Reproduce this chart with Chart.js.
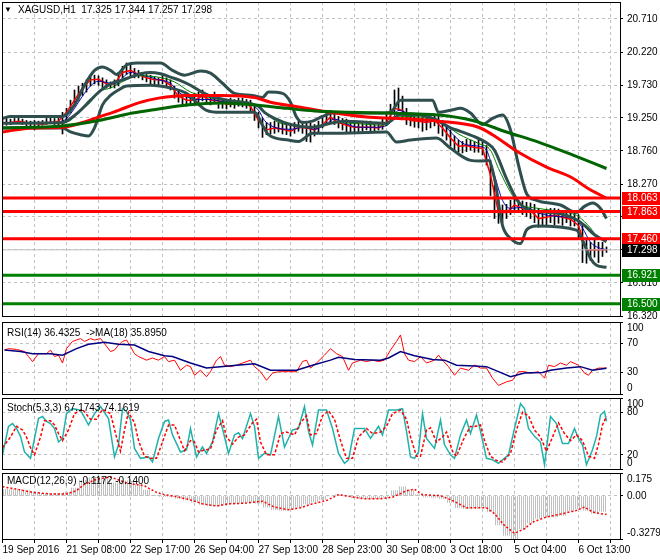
<!DOCTYPE html>
<html>
<head>
<meta charset="utf-8">
<script src="https://cdn.jsdelivr.net/npm/chart.js@4/dist/chart.umd.min.js"></script>
<style>
  body { margin: 0; background: #fff; }
  #wrap { position: relative; width: 660px; height: 560px; overflow: hidden; font: 10px "Liberation Sans", Arial, sans-serif; color: #000; }
  #wrap canvas { position: absolute; left: 0; top: 0; }
  .t { position: absolute; white-space: pre; line-height: 12px; }
</style>
</head>
<body>
<div id="wrap">
  <canvas id="cMain" width="660" height="560"></canvas>
  <canvas id="cRsi" width="660" height="560"></canvas>
  <canvas id="cStoch" width="660" height="560"></canvas>
  <canvas id="cMacd" width="660" height="560"></canvas>
  <div class="t" style="left:4px;top:4px;font-size:8px">▼</div>
  <div class="t" style="left:18px;top:4px">XAGUSD,H1  17.325 17.344 17.257 17.298</div>
  <div class="t" style="left:7px;top:327px">RSI(14) 36.4325  -&gt;MA(18) 35.8950</div>
  <div class="t" style="left:7px;top:402px">Stoch(5,3,3) 67.1743 74.1619</div>
  <div class="t" style="left:7px;top:475px">MACD(12,26,9) -0.1172 -0.1400</div>
</div>
<script>
const xLabels = ['19 Sep 2016', '21 Sep 08:00', '22 Sep 17:00', '26 Sep 04:00', '27 Sep 13:00',
  '28 Sep 23:00', '30 Sep 08:00', '3 Oct 18:00', '5 Oct 04:00', '6 Oct 13:00'];
const priceTicks = [16.320, 16.810, 17.300, 17.790, 18.270, 18.760, 19.250, 19.730, 20.220, 20.710];
const resistance = [18.063, 17.863, 17.460];
const support = [16.921, 16.500];
const lastPrice = 17.298;

// high / low, one stick every 2 bars
const barHigh = [
  19.26, 19.24, 19.23, 19.24, 19.26, 19.23, 19.21, 19.20, 19.21, 19.20,
  19.21, 19.24, 19.26, 19.24, 19.27, 19.33, 19.39, 19.51, 19.66, 19.72,
  19.76, 19.81, 19.87, 19.88, 19.87, 19.84, 19.81, 19.78, 19.81, 19.92,
  20.01, 20.06, 20.04, 19.98, 19.95, 19.92, 19.89, 19.88, 19.85, 19.84,
  19.89, 19.84, 19.81, 19.72, 19.66, 19.60, 19.58, 19.57, 19.61, 19.63,
  19.66, 19.61, 19.58, 19.63, 19.57, 19.52, 19.52, 19.54, 19.52, 19.54,
  19.54, 19.52, 19.51, 19.42, 19.33, 19.24, 19.18, 19.18, 19.20, 19.18,
  19.17, 19.15, 19.15, 19.18, 19.20, 19.20, 19.17, 19.17, 19.15, 19.20,
  19.27, 19.33, 19.36, 19.32, 19.27, 19.24, 19.23, 19.21, 19.20, 19.18,
  19.20, 19.20, 19.20, 19.18, 19.18, 19.23, 19.32, 19.45, 19.66, 19.69,
  19.57, 19.39, 19.32, 19.29, 19.30, 19.27, 19.29, 19.30, 19.30, 19.30,
  19.21, 19.13, 19.07, 18.98, 18.92, 18.90, 18.93, 18.92, 18.90, 18.92,
  18.89, 18.84, 18.62, 18.25, 18.03, 17.96, 17.97, 18.03, 18.06, 18.03,
  18.02, 18.00, 17.99, 17.97, 17.91, 17.88, 17.90, 17.91, 17.91, 17.90,
  17.88, 17.88, 17.85, 17.84, 17.82, 17.66, 17.47, 17.41, 17.44, 17.41,
  17.41, 17.34
];
const barLow = [
  19.13, 19.14, 19.15, 19.17, 19.17, 19.15, 19.13, 19.11, 19.07, 19.13,
  19.14, 19.15, 19.17, 19.15, 19.14, 19.01, 19.21, 19.33, 19.42, 19.51,
  19.58, 19.63, 19.72, 19.75, 19.73, 19.69, 19.69, 19.69, 19.69, 19.72,
  19.84, 19.89, 19.87, 19.84, 19.84, 19.81, 19.78, 19.75, 19.75, 19.72,
  19.75, 19.72, 19.66, 19.54, 19.48, 19.45, 19.42, 19.44, 19.45, 19.47,
  19.50, 19.47, 19.44, 19.47, 19.39, 19.39, 19.38, 19.41, 19.39, 19.42,
  19.41, 19.39, 19.33, 19.21, 19.10, 18.96, 19.00, 19.01, 19.02, 19.04,
  19.01, 19.00, 18.98, 19.02, 19.05, 19.02, 18.90, 18.89, 18.98, 19.02,
  19.10, 19.15, 19.18, 19.15, 19.10, 19.07, 19.04, 19.04, 19.04, 19.04,
  19.05, 19.07, 19.05, 19.05, 19.07, 19.08, 19.13, 19.21, 19.30, 19.36,
  19.24, 19.15, 19.13, 19.11, 19.10, 19.05, 19.07, 19.10, 19.13, 19.02,
  18.98, 18.92, 18.83, 18.77, 18.74, 18.73, 18.75, 18.77, 18.74, 18.74,
  18.70, 18.55, 18.10, 17.76, 17.69, 17.70, 17.76, 17.82, 17.85, 17.85,
  17.82, 17.79, 17.76, 17.70, 17.63, 17.66, 17.67, 17.70, 17.67, 17.69,
  17.66, 17.70, 17.65, 17.65, 17.47, 17.11, 17.10, 17.14, 17.19, 17.11,
  17.20, 17.26
];
// close, every 4 bars
const closeLine = [
  19.17, 19.18, 19.20, 19.18, 19.17, 19.15, 19.18, 19.20, 19.33, 19.51,
  19.69, 19.81, 19.82, 19.75, 19.75, 19.92, 19.95, 19.89, 19.84, 19.81,
  19.81, 19.73, 19.57, 19.51, 19.51, 19.57, 19.51, 19.50, 19.45, 19.45,
  19.47, 19.42, 19.21, 19.07, 19.10, 19.08, 19.05, 19.11, 19.10, 19.07,
  19.15, 19.26, 19.18, 19.14, 19.11, 19.11, 19.11, 19.10, 19.18, 19.39,
  19.36, 19.21, 19.20, 19.18, 19.21, 19.10, 18.95, 18.83, 18.84, 18.81,
  18.80, 18.40, 17.85, 17.85, 17.96, 17.91, 17.88, 17.76, 17.78, 17.81,
  17.78, 17.75, 17.66, 17.29, 17.30, 17.30
];
// [bar, value]
const fastMA = [[0,19.17],[28,19.18],[32,19.24],[36,19.39],[40,19.57],[44,19.72],[48,19.79],[54,19.76],[57,19.75],[60,19.84],[64,19.92],[68,19.89],[74,19.85],[78,19.81],[84,19.76],[88,19.63],[94,19.54],[98,19.52],[104,19.52],[108,19.50],[116,19.47],[124,19.45],[128,19.36],[131,19.21],[136,19.11],[144,19.08],[151,19.11],[156,19.08],[161,19.14],[166,19.23],[171,19.17],[178,19.11],[188,19.11],[194,19.18],[198,19.36],[204,19.29],[208,19.21],[216,19.20],[221,19.13],[226,18.98],[231,18.86],[238,18.83],[242,18.77],[246,18.40],[250,18.03],[254,17.91],[261,17.93],[268,17.84],[278,17.79],[286,17.76],[290,17.62],[294,17.41],[298,17.33],[302,17.30]];
const midMA = [[0,19.17],[30,19.18],[34,19.21],[38,19.33],[44,19.48],[48,19.63],[54,19.69],[58,19.75],[64,19.84],[68,19.87],[78,19.85],[86,19.78],[94,19.63],[101,19.57],[108,19.52],[118,19.50],[126,19.45],[131,19.33],[138,19.18],[148,19.13],[158,19.11],[166,19.18],[174,19.17],[191,19.14],[198,19.26],[204,19.27],[214,19.23],[221,19.15],[228,19.01],[238,18.87],[244,18.77],[248,18.50],[254,18.15],[258,17.99],[268,17.91],[284,17.84],[288,17.79],[294,17.62],[298,17.47],[302,17.44]];
const bbUpper = [[0,19.24],[4,19.27],[30,19.27],[36,19.44],[41,19.73],[46,19.95],[50,20.00],[54,19.95],[57,19.89],[62,20.03],[67,20.06],[79,20.06],[85,19.95],[91,19.88],[99,19.94],[104,19.91],[110,19.76],[116,19.61],[125,19.58],[130,19.55],[133,19.63],[140,19.61],[144,19.48],[147,19.26],[150,19.18],[155,19.20],[160,19.27],[165,19.32],[192,19.32],[195,19.36],[199,19.51],[215,19.51],[218,19.33],[224,19.36],[229,19.39],[234,19.32],[240,19.15],[245,19.24],[250,19.29],[254,19.07],[258,18.55],[262,18.13],[267,18.03],[279,17.96],[287,17.85],[291,17.94],[295,17.99],[299,17.91],[302,17.76]];
const bbMiddle = [[0,19.17],[30,19.18],[34,19.24],[39,19.36],[44,19.51],[49,19.65],[54,19.75],[59,19.80],[64,19.85],[69,19.90],[74,19.92],[79,19.90],[84,19.85],[89,19.80],[94,19.73],[99,19.64],[104,19.57],[109,19.53],[116,19.49],[124,19.46],[128,19.42],[131,19.33],[136,19.24],[144,19.15],[154,19.11],[159,19.13],[164,19.17],[171,19.20],[192,19.17],[199,19.30],[206,19.30],[217,19.22],[224,19.10],[229,19.05],[236,18.97],[242,18.88],[246,18.77],[252,18.35],[257,18.05],[262,17.90],[269,17.86],[279,17.83],[286,17.76],[291,17.66],[296,17.52],[302,17.42]];
const bbLower = [[0,19.10],[30,19.10],[34,19.04],[39,19.00],[43,18.98],[46,19.10],[50,19.44],[54,19.58],[58,19.66],[62,19.72],[74,19.73],[84,19.69],[92,19.61],[102,19.36],[109,19.33],[126,19.33],[130,19.14],[133,19.00],[143,18.92],[148,18.90],[155,19.02],[164,19.02],[192,19.04],[197,18.89],[204,18.92],[217,18.95],[224,18.80],[234,18.62],[239,18.61],[243,18.62],[246,18.35],[250,17.66],[254,17.47],[259,17.39],[262,17.59],[267,17.65],[287,17.59],[290,17.44],[294,17.17],[297,17.07],[302,17.04]];
const ma100 = [[0,19.04],[15,19.10],[30,19.11],[40,19.18],[48,19.26],[58,19.36],[68,19.47],[78,19.54],[92,19.58],[110,19.58],[126,19.55],[134,19.48],[148,19.41],[164,19.33],[182,19.26],[198,19.24],[218,19.20],[238,19.11],[245,19.00],[258,18.74],[272,18.52],[285,18.36],[292,18.22],[302,18.06]];
const ma200 = [[0,19.10],[30,19.13],[48,19.21],[65,19.32],[78,19.38],[92,19.44],[110,19.47],[126,19.44],[142,19.39],[156,19.35],[192,19.32],[218,19.29],[235,19.21],[252,19.04],[268,18.89],[285,18.70],[302,18.50]];

const rsi = [[1,61],[3,63],[7,62],[11,59],[13,52],[15,45],[18,56],[22,56],[24,61],[26,52],[28,54],[30,43],[32,63],[35,73],[37,75],[39,77],[41,73],[44,77],[46,75],[49,77],[51,70],[54,59],[56,61],[58,68],[60,73],[62,75],[64,66],[66,56],[68,52],[72,47],[75,50],[78,47],[81,52],[83,45],[86,47],[89,33],[92,40],[94,38],[96,26],[99,33],[102,24],[104,31],[107,47],[109,52],[111,40],[114,38],[117,40],[120,43],[124,47],[126,38],[129,31],[132,19],[135,29],[138,31],[143,31],[147,31],[150,45],[152,47],[154,36],[157,43],[161,54],[164,63],[167,56],[170,52],[173,33],[175,43],[179,47],[182,45],[185,47],[188,45],[191,47],[194,61],[197,73],[199,82],[201,56],[203,47],[206,45],[209,52],[212,43],[216,47],[218,54],[220,47],[223,38],[226,26],[229,36],[233,33],[236,40],[239,36],[242,36],[245,22],[248,12],[252,17],[255,19],[258,31],[261,31],[264,29],[268,31],[271,22],[273,40],[276,38],[279,43],[282,40],[284,45],[288,40],[291,29],[293,26],[295,33],[298,36],[301,36],[302,36.43]];
const rsiMA = [[1,61],[9,59],[15,56],[24,56],[30,54],[37,63],[43,69],[51,72],[58,69],[66,68],[73,59],[81,53],[85,52],[94,43],[102,36],[109,38],[117,40],[126,42],[134,33],[147,33],[155,40],[164,47],[168,51],[176,48],[189,47],[193,50],[199,59],[206,53],[215,48],[221,47],[227,40],[236,39],[242,38],[248,31],[254,24],[261,29],[270,30],[274,33],[282,36],[289,38],[295,33],[302,35.9]];

const stochMain = [[0,20],[3,60],[5,64],[7,57],[9,46],[11,24],[14,15],[18,71],[20,74],[22,67],[24,64],[26,57],[28,38],[30,43],[32,78],[35,85],[39,83],[43,62],[46,78],[49,88],[53,71],[56,17],[58,34],[60,85],[62,81],[64,69],[66,29],[69,15],[73,17],[75,10],[78,43],[81,67],[83,69],[85,48],[89,24],[92,27],[94,57],[97,17],[100,31],[102,22],[105,38],[108,78],[110,57],[113,22],[116,48],[118,51],[120,43],[124,78],[126,60],[128,15],[131,22],[134,20],[138,74],[141,31],[145,55],[148,57],[151,88],[153,53],[155,34],[158,83],[162,83],[165,57],[168,22],[171,8],[173,13],[176,57],[181,57],[184,43],[188,60],[190,48],[193,83],[197,83],[200,85],[202,53],[204,17],[206,15],[208,24],[210,78],[212,43],[216,29],[219,69],[221,34],[224,20],[226,15],[229,48],[232,69],[234,50],[237,76],[239,53],[242,15],[245,13],[248,8],[253,20],[256,57],[259,92],[261,85],[263,57],[266,46],[269,38],[271,6],[274,74],[277,64],[280,36],[283,36],[286,57],[288,43],[290,34],[292,6],[295,27],[297,46],[299,76],[301,81],[302,67.17]];
const stochSignal = [[0,30],[4,45],[7,60],[10,55],[12,45],[14,30],[16,20],[19,45],[21,68],[24,68],[26,62],[28,50],[30,40],[33,55],[36,78],[40,84],[44,70],[47,70],[50,84],[54,78],[57,45],[59,25],[61,55],[63,80],[66,65],[68,40],[71,18],[74,15],[77,15],[80,38],[83,62],[86,62],[89,40],[91,26],[94,40],[96,38],[98,24],[101,27],[104,28],[107,55],[110,68],[112,45],[115,35],[118,45],[121,48],[125,65],[127,70],[129,38],[132,20],[136,20],[139,50],[142,52],[146,48],[149,65],[152,75],[154,48],[157,50],[160,75],[163,82],[166,70],[169,40],[172,15],[175,15],[178,45],[182,57],[185,50],[189,52],[192,60],[195,78],[199,83],[202,70],[204,45],[207,18],[209,18],[212,55],[214,58],[217,38],[220,45],[222,52],[225,25],[227,18],[231,45],[234,60],[236,60],[239,62],[241,40],[244,18],[247,12],[250,10],[254,22],[257,55],[260,80],[263,75],[266,55],[269,45],[272,25],[275,45],[278,65],[281,50],[284,40],[287,48],[290,40],[293,18],[296,15],[298,35],[300,62],[302,74.16]];

// MACD main, every 4 bars
const macdHist = [
  0.05, 0.05, 0.05, 0.04, 0.03, 0.02, 0.02, 0.02, 0.028, 0.06,
  0.12, 0.14, 0.145, 0.13, 0.10, 0.115, 0.115, 0.09, 0.045, 0.005,
  -0.003, -0.007, -0.02, -0.03, -0.047, -0.065, -0.076, -0.075, -0.063, -0.06,
  -0.055, -0.048, -0.055, -0.085, -0.105, -0.11, -0.102, -0.085, -0.062, -0.045,
  -0.028, 0.0, 0.01, 0.0, -0.013, -0.02, -0.022, -0.022, -0.01, 0.04,
  0.07, 0.045, 0.01, -0.008, -0.012, -0.02, -0.05, -0.09, -0.097, -0.097,
  -0.09, -0.12, -0.22, -0.30, -0.325, -0.25, -0.205, -0.17, -0.16, -0.16,
  -0.148, -0.115, -0.098, -0.11, -0.135, -0.117
];
const macdSignal = [[0,0.07],[7,0.052],[15,0.028],[24,0.015],[32,0.015],[37,0.04],[41,0.09],[47,0.127],[54,0.145],[62,0.10],[71,0.077],[77,0.027],[81,0.01],[87,-0.005],[94,-0.03],[100,-0.06],[107,-0.077],[113,-0.06],[121,-0.055],[130,-0.04],[136,-0.085],[143,-0.105],[149,-0.09],[155,-0.06],[162,-0.035],[168,0.01],[174,-0.005],[181,-0.022],[189,-0.022],[195,-0.01],[202,0.04],[206,0.052],[210,0.01],[219,0.002],[225,-0.035],[232,-0.09],[242,-0.09],[246,-0.135],[251,-0.225],[256,-0.285],[261,-0.25],[265,-0.2],[272,-0.16],[280,-0.135],[287,-0.11],[291,-0.085],[295,-0.122],[299,-0.135],[302,-0.14]];

const FONT = '10px "Liberation Sans", Arial, sans-serif';
const X_MIN = -0.25, X_MAX = 308.75;
const pts = arr => arr.map(([x, y]) => ({x, y}));
const flat = v => [{x: X_MIN, y: v}, {x: X_MAX, y: v}];

function line(data, color, width, extra) {
  return Object.assign({type: 'line', data, borderColor: color, borderWidth: width,
    pointRadius: 0, fill: false, tension: 0}, extra || {});
}
const smooth = {cubicInterpolationMode: 'monotone'};

// frame, right axis labels and price boxes
const panelDecor = {
  id: 'panelDecor',
  afterDraw(chart, args, opts) {
    const ctx = chart.ctx, a = chart.chartArea, ys = chart.scales.y;
    ctx.save();
    ctx.strokeStyle = '#000';
    ctx.lineWidth = 1;
    ctx.strokeRect(a.left + 0.5, a.top + 0.5, a.right - a.left, a.bottom - a.top);
    ctx.font = FONT;
    ctx.textBaseline = 'middle';
    ctx.textAlign = 'left';
    ctx.fillStyle = '#000';
    (opts.labels || []).forEach(([v, txt]) => {
      let y = ys.getPixelForValue(v);
      if (opts.clamp) y = Math.min(Math.max(y, a.top + 6), a.bottom - 6);
      ctx.fillText(txt, a.right + 7, y);
    });
    (opts.boxes || []).forEach(([v, color]) => {
      const y = Math.round(ys.getPixelForValue(v));
      ctx.fillStyle = color;
      ctx.fillRect(a.right + 2, y - 6, 660 - a.right - 2, 13);
      ctx.fillStyle = '#fff';
      ctx.fillText(v.toFixed(3), a.right + 7, y + 0.5);
    });
    ctx.restore();
  }
};
Chart.register(panelDecor);
Chart.defaults.font.family = '"Liberation Sans", Arial, sans-serif';
Chart.defaults.font.size = 10;
Chart.defaults.color = '#000';

function xAxis(bottom) {
  return {
    type: 'linear', min: X_MIN, max: X_MAX, offset: false,
    afterBuildTicks: s => { const t = []; for (let v = 0; v <= 304; v += 16) t.push({value: v}); s.ticks = t; },
    afterFit: s => { s.height = bottom ? 21 : 0; s.paddingLeft = 0; s.paddingRight = 0; },
    grid: {color: '#c0c0c0', drawTicks: bottom, tickLength: 4, tickColor: '#000', tickBorderDash: [1, 0], offset: false},
    border: {display: false, dash: [3, 3]},
    ticks: {display: bottom, autoSkip: false, maxRotation: 0, minRotation: 0, align: 'start', padding: 1,
      color: '#000', font: {size: 10},
      callback: v => (v % 32 === 0 ? xLabels[v / 32] : '')}
  };
}

function yAxis(min, max, ticks, edgeless) {
  return {
    position: 'right', min, max,
    afterBuildTicks: s => { s.ticks = ticks.map(v => ({value: v})); },
    afterFit: s => { s.width = 40; s.paddingTop = 0; s.paddingBottom = 0; },
    grid: {
      color: c => (c.tick && edgeless && (c.tick.value === min || c.tick.value === max)) ? 'rgba(0,0,0,0)' : '#c0c0c0',
      tickLength: 3, tickColor: '#000', tickBorderDash: [1, 0]
    },
    border: {display: false, dash: [3, 3]},
    ticks: {display: false}
  };
}

function options(top, bottom, y, showX, decor) {
  return {
    responsive: false, animation: false, events: [],
    layout: {padding: {left: 2, right: 0, top, bottom}},
    scales: {x: xAxis(showX), y},
    plugins: {legend: {display: false}, tooltip: {enabled: false}, panelDecor: decor}
  };
}

// main price window
const closePts = closeLine.map((v, k) => ({x: k * 4, y: v})).concat([{x: 302, y: lastPrice}]);
const sticks = barHigh.map((h, k) => ({x: k * 2, y: [barLow[k], h]}));
new Chart(document.getElementById('cMain'), {
  type: 'line',
  data: {datasets: [
    ...resistance.map(v => line(flat(v), '#ff0000', 3)),
    ...support.map(v => line(flat(v), '#008000', 3)),
    line(flat(lastPrice), '#c0c0c0', 1),
    line(pts(ma200), '#006400', 3, smooth),
    line(pts(ma100), '#ff0000', 3, smooth),
    line(pts(bbUpper), '#2f4f4f', 3, smooth),
    line(pts(bbMiddle), '#2f4f4f', 3, smooth),
    line(pts(bbLower), '#2f4f4f', 3, smooth),
    line(pts(midMA), '#008000', 1, smooth),
    line(pts(fastMA), '#0000b0', 1, smooth),
    line(closePts, '#ff0000', 1.5),
    {type: 'bar', data: sticks, backgroundColor: '#000', barThickness: 1, borderWidth: 0}
  ]},
  options: options(2, 244, yAxis(16.32, 20.961, priceTicks, false), false, {
    labels: priceTicks.map(v => [v, v.toFixed(3)]),
    boxes: [[resistance[0], '#ff0000'], [resistance[1], '#ff0000'], [resistance[2], '#ff0000'],
      [lastPrice, '#000000'], [support[0], '#008000'], [support[1], '#008000']]
  })
});

// RSI window
new Chart(document.getElementById('cRsi'), {
  type: 'line',
  data: {datasets: [
    line(pts(rsiMA), '#000080', 1.5),
    line(pts(rsi), '#ff0000', 1)
  ]},
  options: options(322, 166, yAxis(0, 100, [0, 30, 70, 100], true), false, {
    labels: [[100, '100'], [70, '70'], [30, '30'], [0, '0']], clamp: true
  })
});

// Stochastic window
new Chart(document.getElementById('cStoch'), {
  type: 'line',
  data: {datasets: [
    line(pts(stochSignal), '#ff0000', 1.5, {borderDash: [3, 2]}),
    line(pts(stochMain), '#20b2aa', 1.5)
  ]},
  options: options(398, 91, yAxis(0, 100, [0, 20, 80, 100], true), false, {
    labels: [[100, '100'], [80, '80'], [20, '20'], [0, '0']], clamp: true
  })
});

// MACD window
const macdCanvas = document.getElementById('cMacd');
const pc = document.createElement('canvas');
pc.width = 2; pc.height = 1;
const pctx = pc.getContext('2d');
pctx.fillStyle = '#c0c0c0';
pctx.fillRect(1, 0, 1, 1);
const stripes = macdCanvas.getContext('2d').createPattern(pc, 'repeat');

new Chart(macdCanvas, {
  type: 'line',
  data: {datasets: [
    line(pts(macdSignal), '#ff0000', 1.5, {borderDash: [2, 2]}),
    {type: 'bar', data: macdHist.map((v, k) => ({x: k * 4, y: v})), backgroundColor: stripes,
      barThickness: 8, borderWidth: 0}
  ]},
  options: options(473, 0, yAxis(-0.3279, 0.175, [-0.3279, 0, 0.175], true), true, {
    labels: [[0.175, '0.175'], [0, '0.00'], [-0.3279, '-0.3279']], clamp: true
  })
});
</script>
</body>
</html>
